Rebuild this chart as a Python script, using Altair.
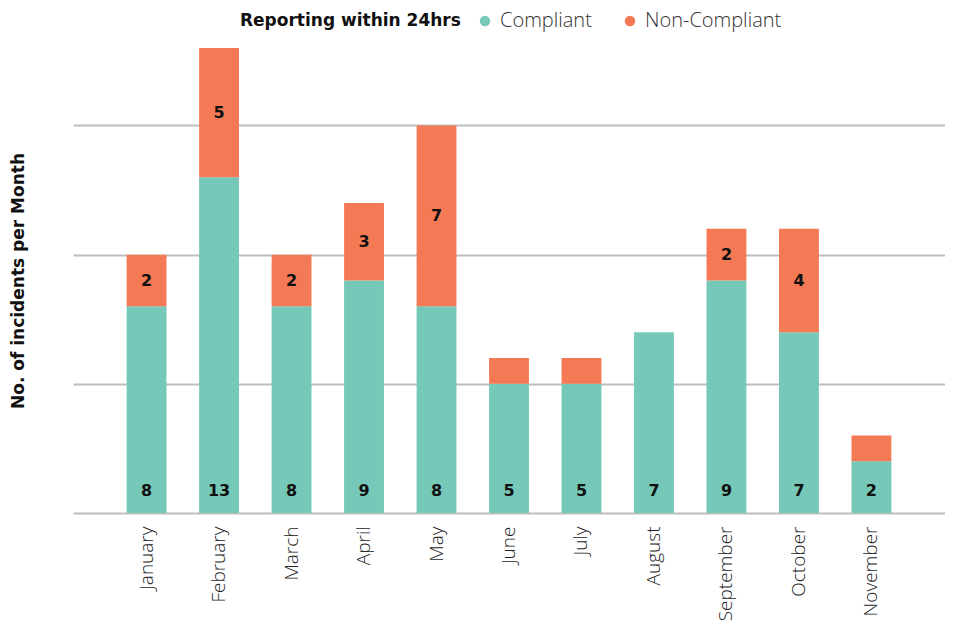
import altair as alt
import pandas as pd

months = ["January", "February", "March", "April", "May", "June",
          "July", "August", "September", "October", "November"]
compliant = [8, 13, 8, 9, 8, 5, 5, 7, 9, 7, 2]
non_compliant = [2, 5, 2, 3, 7, 1, 1, 0, 2, 4, 1]
series = ["Compliant", "Non-Compliant"]
colors = ["#76C8B8", "#F47A56"]

rows = []
for m, c, n in zip(months, compliant, non_compliant):
    rows.append({"month": m, "status": "Compliant", "count": c, "order": 0})
    rows.append({"month": m, "status": "Non-Compliant", "count": n, "order": 1})
long_df = pd.DataFrame(rows)

wide = pd.DataFrame({"month": months, "compliant": compliant, "non": non_compliant})
wide["base"] = 0
wide["mid"] = wide["compliant"] + wide["non"] / 2

LIGHT = "Open Sans"
BOLD = "DejaVu Sans"

x_enc = alt.X(
    "month:N", sort=months, title=None,
    scale=alt.Scale(paddingInner=0.45, paddingOuter=0.74),
    axis=alt.Axis(labelAngle=-90, labelFont=LIGHT, labelFontSize=19,
                  labelColor="#222222", labelPadding=13, ticks=False,
                  domain=False, labelFontWeight=300),
)
yscale = alt.Scale(domain=[0, 18], nice=False, zero=True)
yaxis = alt.Axis(values=[0, 5, 10, 15], labels=False, ticks=False, domain=False,
                 grid=True, gridColor="#BDBDBD", gridWidth=2,
                 title="No. of incidents per Month", titleFont=BOLD,
                 titleFontSize=17, titleFontWeight="bold", titleColor="#111111",
                 titlePadding=46)

bars = alt.Chart(long_df).mark_bar().encode(
    x=x_enc,
    y=alt.Y("count:Q", stack="zero", scale=yscale, axis=yaxis),
    color=alt.Color(
        "status:N",
        scale=alt.Scale(domain=series, range=colors),
        legend=alt.Legend(
            title="Reporting within 24hrs", orient="none", legendX=167, legendY=-37,
            direction="horizontal", titleOrient="left", symbolType="circle",
            symbolSize=110, symbolStrokeWidth=0, symbolOpacity=1,
            labelFont=LIGHT, labelFontSize=20, labelFontWeight=300,
            labelColor="#333333", labelLimit=300,
            titleFont=BOLD, titleFontSize=17, titleFontWeight="bold",
            titleColor="#111111", titleLimit=400,
            columnPadding=28, labelOffset=5, titlePadding=14,
        ),
    ),
    order=alt.Order("order:Q"),
)

comp_text = alt.Chart(wide).mark_text(
    font=BOLD, fontWeight="bold", fontSize=16, color="#111111", dy=-22, baseline="middle"
).encode(
    x=x_enc,
    y=alt.Y("base:Q", scale=yscale, axis=yaxis),
    text="compliant:Q",
)

non_text = alt.Chart(wide).transform_filter("datum.non >= 2").mark_text(
    font=BOLD, fontWeight="bold", fontSize=16, color="#111111", baseline="middle"
).encode(
    x=x_enc,
    y=alt.Y("mid:Q", scale=yscale, axis=yaxis),
    text="non:Q",
)

chart = alt.layer(bars, comp_text, non_text).properties(
    width=872, height=465,
    autosize=alt.AutoSizeParams(type="none"),
    padding={"left": 65, "top": 40, "right": 0, "bottom": 110},
).configure_view(stroke=None)

chart.save("out.html", embed_options={"renderer": "svg", "actions": False})
